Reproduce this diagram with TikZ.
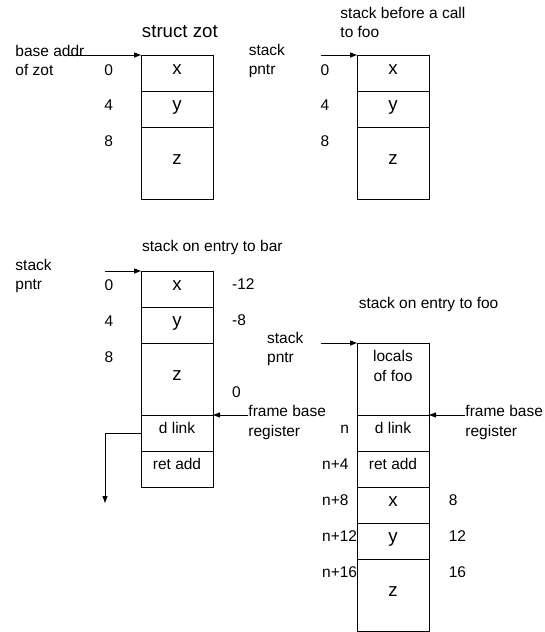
\documentclass[tikz,border=0pt]{standalone}
\usepackage{fontspec}
\setmainfont{Liberation Sans}
\usetikzlibrary{positioning,arrows.meta}

\begin{document}
\begin{tikzpicture}[x=1pt,y=-1pt,line width=0.9pt,
	  cell/.style={draw,minimum width=72pt,minimum height=36pt,inner sep=0pt,outer sep=0pt,
	    font=\fontsize{18.7}{22}\selectfont,text height=8pt,text depth=6pt},
	  lcell/.style={cell,font=\fontsize{15.5}{19.5}\selectfont,text height=7pt,text depth=7pt},
	  word/.style={font=\fontsize{15.5}{19.5}\selectfont,inner sep=0pt},
	  ptr/.style={-{Triangle[length=7pt,width=5pt]}}]
	  \useasboundingbox (0,0) rectangle (544,632);
	  % struct zot
	  \node (1_0) [word,font=\fontsize{18.7}{22}\selectfont,anchor=base west] at (141.5,37.3) {struct zot};
	  \node (1_1) [cell,anchor=north] at (177,55) {x};
	  \node (1_2) [cell,below=0pt of 1_1] {y};
	  \node (1_3) [cell,below=0pt of 1_2,minimum height=72pt] {z};
	  \node (1_a) [word,align=left,anchor=base west] at (15,75.5) {base addr\\of zot};
	  \node (1_b) [word,anchor=base] at (108.7,75) {0};
	  \node (1_c) [word,anchor=base] at (108.7,110.5) {4};
	  \node (1_d) [word,anchor=base] at (108.7,146) {8};
	  \coordinate (1_p) at (69,55);
	  \draw[ptr] (1_p) -- (1_1.north west);
	  % stack before the call
	  \node (2_0) [word,align=left,anchor=base west] at (340,37.5) {stack before a call\\to foo};
	  \node (2_1) [cell,anchor=north] at (393,55) {x};
	  \node (2_2) [cell,below=0pt of 2_1] {y};
	  \node (2_3) [cell,below=0pt of 2_2,minimum height=72pt] {z};
	  \node (2_a) [word,align=left,anchor=base west] at (248.3,74.5) {stack\\pntr};
	  \node (2_b) [word,anchor=base] at (325,75) {0};
	  \node (2_c) [word,anchor=base] at (325,110.5) {4};
	  \node (2_d) [word,anchor=base] at (325,146) {8};
	  \coordinate (2_p) at (320.7,55);
	  \draw[ptr] (2_p) -- (2_1.north west);
	  % bar
	  \node (3_0) [word,anchor=base west] at (141.7,251.7) {stack on entry to bar};
	  \node (3_1) [cell,anchor=north] at (177,271) {x};
	  \node (3_2) [cell,below=0pt of 3_1] {y};
	  \node (3_3) [cell,below=0pt of 3_2,minimum height=72pt] {z};
	  \node (3_4) [lcell,below=0pt of 3_3] {d link};
	  \node (3_5) [lcell,below=0pt of 3_4] {ret add};
	  \node (3_a) [word,align=left,anchor=base west] at (15,289.5) {stack\\pntr};
	  \node (3_b) [word,anchor=base] at (109,290) {0};
	  \node (3_c) [word,anchor=base] at (109,326) {4};
	  \node (3_d) [word,anchor=base] at (109,362) {8};
	  \node (3_e) [word,anchor=base west] at (231.7,289) {-12};
	  \node (3_f) [word,anchor=base west] at (231.7,325) {-8};
	  \node (3_g) [word,anchor=base west] at (231.7,397) {0};
	  \node (3_h) [word,align=left,anchor=base west] at (248,436) {frame base\\register};
	  \coordinate (3_p) at (105,271);
	  \coordinate (3_q) at (105,503);
	  \coordinate (3_r) at (248,415);
	  \draw[ptr] (3_p) -- (3_1.north west);
	  \draw[ptr] (3_r) -- (3_4.north east);
	  \draw[ptr] (3_4.west) -| (3_q);
	  % foo
	  \node (4_0) [word,anchor=base west] at (358.3,308) {stack on entry to foo};
	  \node (4_1) [lcell,anchor=north,minimum height=72pt] at (393,343) {};
	  \node (4_l) [word,align=center,anchor=base] at ([yshift=-38.3pt]4_1.north) {locals\\of foo};
	  \node (4_2) [lcell,below=0pt of 4_1] {d link};
	  \node (4_3) [lcell,below=0pt of 4_2] {ret add};
	  \node (4_4) [cell,below=0pt of 4_3] {x};
	  \node (4_5) [cell,below=0pt of 4_4] {y};
	  \node (4_6) [cell,below=0pt of 4_5,minimum height=72pt] {z};
	  \node (4_a) [word,align=left,anchor=base west] at (266.7,362.5) {stack\\pntr};
	  \node (4_b) [word,anchor=base west] at (340,433) {n};
	  \node (4_c) [word,anchor=base west] at (321.7,469) {n+4};
	  \node (4_d) [word,anchor=base west] at (321.7,505) {n+8};
	  \node (4_e) [word,anchor=base west] at (321.7,541) {n+12};
	  \node (4_f) [word,anchor=base west] at (321.7,577) {n+16};
	  \node (4_g) [word,anchor=base west] at (448.3,505) {8};
	  \node (4_h) [word,anchor=base west] at (448.3,541) {12};
	  \node (4_i) [word,anchor=base west] at (448.3,577) {16};
	  \node (4_j) [word,align=left,anchor=base west] at (465,436) {frame base\\register};
	  \coordinate (4_p) at (320.7,343);
	  \coordinate (4_r) at (465,415);
	  \draw[ptr] (4_p) -- (4_1.north west);
	  \draw[ptr] (4_r) -- (4_2.north east);
\end{tikzpicture}
\end{document}
